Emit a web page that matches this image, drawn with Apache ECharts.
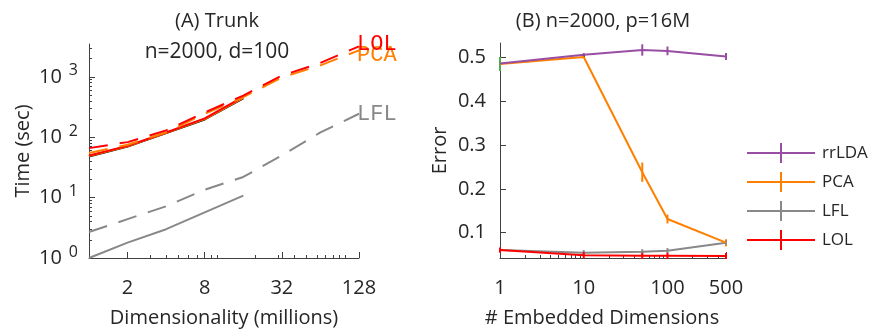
<!DOCTYPE html>
<html><head><meta charset="utf-8">
<script src="https://cdn.jsdelivr.net/npm/echarts@6/dist/echarts.min.js"></script>
<style>html,body{margin:0;padding:0;background:#fff}#c{width:875px;height:333px}</style>
</head><body><div id="c"></div>
<script>
// ---------- Panel A: run time vs dimensionality ----------
const dimsMeasured = [1, 2, 4, 8, 16];
const dimsFit = [1, 2, 4, 8, 16, 32, 64, 128];
const timeBlack = [48, 70, 117, 197, 440];
const timeLOL = [50, 72, 120, 205, 465];
const timePCA = [49, 71, 118, 200, 450];
const timeLFL = [1.0, 1.8, 3.0, 5.7, 10.8];
const fitLOL = [66, 83, 130, 257, 490, 1050, 1700, 3200];
const fitPCA = [55, 75, 120, 245, 460, 980, 1550, 2750];
const fitLFL = [2.7, 4.4, 7.2, 13.5, 22, 50, 120, 245];
const fitLabels = ['LOL', 'PCA', 'LFL'];
const xTicksA = [2, 8, 32, 128];
const xMinorA = [3, 4, 5, 6, 7, 9, 10, 20, 30, 40, 50, 60, 70, 80, 90, 100];
const yTicksA = [1, 10, 100, 1000];
const yMinorA = [2,3,4,5,6,7,8,9,20,30,40,50,60,70,80,90,200,300,400,500,600,700,800,900,2000,3000];
const titlesA = ['(A) Trunk', 'n=2000, d=100'];
// ---------- Panel B: error vs embedded dimensions ----------
const embDims = [1, 10, 50, 100, 500];
const errRrLDA = [0.486, 0.506, 0.517, 0.515, 0.502];
const sdRrLDA = [0.004, 0.004, 0.013, 0.010, 0.008];
const errPCA = [0.485, 0.501, 0.238, 0.131, 0.077];
const sdPCA = [0.003, 0.003, 0.022, 0.010, 0.008];
const errLFL = [0.060, 0.054, 0.056, 0.0585, 0.077];
const sdLFL = [0.003, 0.006, 0.006, 0.006, 0.005];
const errLOL = [0.060, 0.0485, 0.047, 0.047, 0.0467];
const sdLOL = [0.006, 0.007, 0.007, 0.007, 0.007];
const errGreen = [0.485]; const sdGreen = [0.016]; const dimGreen = [1];
const errBlack = [0.503]; const sdBlack = [0.004]; const dimBlack = [10];
const xTicksB = [1, 10, 100, 500];
const xMinorB = [2,3,4,5,6,7,8,9,20,30,40,50,60,70,80,90,200,300,400];
const yTicksB = [0.1, 0.2, 0.3, 0.4, 0.5];
const legendNames = ['rrLDA', 'PCA', 'LFL', 'LOL'];
const titleB = '(B) n=2000, p=16M';

const C = {purple:'#984ea3', orange:'#ff7f00', gray:'#888888', red:'#ff0000', black:'#000000', green:'#4daf4a'};
const FONT = 'Open Sans';
const TXT = '#262626';
const AX = '#404040';

function pairs(xs, ys){ return xs.map((x,i)=>[x, ys[i]]); }
function lineS(name, xs, ys, color, xi, yi, dashed, z){
  return {type:'line', name, xAxisIndex:xi, yAxisIndex:yi, data:pairs(xs,ys), showSymbol:false, symbol:'none',
    lineStyle:{color, width:2, type: dashed ? [19,12] : 'solid'}, itemStyle:{color}, z: z||2, animation:false, silent:true};
}
function errS(name, xs, ys, es, color, xi, yi){
  return {type:'custom', name, xAxisIndex:xi, yAxisIndex:yi,
    data: xs.map((x,i)=>[x, ys[i]-es[i], ys[i]+es[i]]),
    encode:{x:0, y:[1,2]},
    renderItem(params, api){
      const lo = api.coord([api.value(0), api.value(1)]);
      const hi = api.coord([api.value(0), api.value(2)]);
      return {type:'line', shape:{x1:lo[0], y1:lo[1], x2:hi[0], y2:hi[1]}, style:{stroke:color, lineWidth:2}};
    }, z:3, animation:false, silent:true, clip:false};
}
function titleText(text, x, y, size){
  return {type:'text', x, y, style:{text, fill:TXT, font: size + 'px "' + FONT + '"', align:'center', verticalAlign:'middle'}};
}

const supLabel = {
  formatter: v => '{b|10}{s|' + Math.round(Math.log10(v)) + '}',
  rich: { b:{fontSize:20, fontFamily:FONT, color:TXT}, s:{fontSize:16, fontFamily:FONT, color:TXT, padding:[0,0,12,7]} },
  margin: 11
};

const option = {
  animation:false,
  backgroundColor:'#fff',
  textStyle:{fontFamily:FONT, color:TXT},
  graphic:[
    titleText(titlesA[0], 217, 21, 20),
    titleText(titlesA[1], 217, 52, 21),
    titleText(titleB, 603, 21, 20)
  ],
  legend:{
    data:legendNames, orient:'vertical', left:742, top:138, itemWidth:68, itemHeight:20, itemGap:9,
    icon:'path://M0,9h68v2h-68z M33,0h2v20h-2z',
    textStyle:{fontSize:17, fontFamily:FONT, color:TXT, padding:[0,0,0,2]},
    itemStyle:{borderWidth:0}
  },
  grid:[
    {left:89, right:516, top:44, bottom:74},
    {left:500, right:149, top:43, bottom:74}
  ],
  xAxis:[
    {gridIndex:0, type:'log', logBase:10, min:1, max:128,
      name:'Dimensionality (millions)', nameLocation:'middle', nameGap:50,
      nameTextStyle:{fontSize:20, fontFamily:FONT, color:TXT},
      axisLine:{show:true, lineStyle:{color:AX, width:1}},
      axisTick:{show:true, inside:true, length:6, customValues:xTicksA, lineStyle:{color:AX}},
      axisLabel:{customValues:xTicksA, fontSize:20, fontFamily:FONT, color:TXT, margin:20},
      splitLine:{show:false}, minorTick:{show:false}},
    {gridIndex:0, type:'log', logBase:10, min:1, max:128, position:'bottom',
      axisLine:{show:false}, axisLabel:{show:false}, splitLine:{show:false},
      axisTick:{show:true, inside:true, length:3, customValues:xMinorA, lineStyle:{color:AX}}},
    {gridIndex:1, type:'log', logBase:10, min:1, max:500,
      name:'# Embedded Dimensions', nameLocation:'middle', nameGap:50,
      nameTextStyle:{fontSize:20, fontFamily:FONT, color:TXT, padding:[0,22,0,0]},
      axisLine:{show:true, lineStyle:{color:AX, width:1}},
      axisTick:{show:true, inside:true, length:6, customValues:xTicksB, lineStyle:{color:AX}},
      axisLabel:{customValues:xTicksB, fontSize:20, fontFamily:FONT, color:TXT, margin:20},
      splitLine:{show:false}},
    {gridIndex:1, type:'log', logBase:10, min:1, max:500, position:'bottom',
      axisLine:{show:false}, axisLabel:{show:false}, splitLine:{show:false},
      axisTick:{show:true, inside:true, length:3, customValues:xMinorB, lineStyle:{color:AX}}}
  ],
  yAxis:[
    {gridIndex:0, type:'log', logBase:10, min:1, max:3500,
      name:'Time (sec)', nameLocation:'middle', nameGap:56,
      nameTextStyle:{fontSize:20, fontFamily:FONT, color:TXT},
      axisLine:{show:true, lineStyle:{color:AX, width:1}},
      axisTick:{show:true, inside:true, length:6, customValues:yTicksA, lineStyle:{color:AX}},
      axisLabel:Object.assign({customValues:yTicksA}, supLabel),
      splitLine:{show:false}},
    {gridIndex:0, type:'log', logBase:10, min:1, max:3500, position:'left',
      axisLine:{show:false}, axisLabel:{show:false}, splitLine:{show:false},
      axisTick:{show:true, inside:true, length:3, customValues:yMinorA, lineStyle:{color:AX}}},
    {gridIndex:1, type:'value', min:0.042, max:0.533,
      name:'Error', nameLocation:'middle', nameGap:50,
      nameTextStyle:{fontSize:20, fontFamily:FONT, color:TXT},
      axisLine:{show:true, lineStyle:{color:AX, width:1}},
      axisTick:{show:true, inside:true, length:6, customValues:yTicksB, lineStyle:{color:AX}},
      axisLabel:{customValues:yTicksB, fontSize:20, fontFamily:FONT, color:TXT, margin:14, formatter:v=>v.toFixed(1)},
      splitLine:{show:false}}
  ],
  series:[
    // Panel B lines first (legend colours)
    lineS('rrLDA', embDims, errRrLDA, C.purple, 2, 2, false, 4),
    lineS('PCA', embDims, errPCA, C.orange, 2, 2, false, 3),
    lineS('LFL', embDims, errLFL, C.gray, 2, 2, false, 2),
    lineS('LOL', embDims, errLOL, C.red, 2, 2, false, 5),
    errS('rrLDA', embDims, errRrLDA, sdRrLDA, C.purple, 2, 2),
    errS('PCA', embDims, errPCA, sdPCA, C.orange, 2, 2),
    errS('LFL', embDims, errLFL, sdLFL, C.gray, 2, 2),
    errS('LOL', embDims, errLOL, sdLOL, C.red, 2, 2),
    errS('green', dimGreen, errGreen, sdGreen, C.green, 2, 2),
    errS('black', dimBlack, errBlack, sdBlack, C.black, 2, 2),
    // Panel A
    lineS('A-LFL', dimsMeasured, timeLFL, C.gray, 0, 0, false),
    lineS('A-black', dimsMeasured, timeBlack, C.black, 0, 0, false),
    lineS('A-PCA', dimsMeasured, timePCA, C.orange, 0, 0, false),
    lineS('A-LOL', dimsMeasured, timeLOL, C.red, 0, 0, false),
    Object.assign(lineS('A-fitLFL', dimsFit, fitLFL, C.gray, 0, 0, true), {endLabel:{show:true, formatter:fitLabels[2], color:C.gray, fontFamily:'Liberation Mono', fontSize:22, distance:0, offset:[-2,0]}}),
    Object.assign(lineS('A-fitPCA', dimsFit, fitPCA, C.orange, 0, 0, true), {endLabel:{show:true, formatter:fitLabels[1], color:C.orange, fontFamily:'Liberation Mono', fontSize:22, distance:0, offset:[-2,5]}}),
    Object.assign(lineS('A-fitLOL', dimsFit, fitLOL, C.red, 0, 0, true), {endLabel:{show:true, formatter:fitLabels[0], color:C.red, fontFamily:'Liberation Mono', fontSize:22, distance:0, offset:[-2,-2]}})
  ]
};
const chart = echarts.init(document.getElementById('c'), null, {renderer:'canvas'});
chart.setOption(option);
</script></body></html>
